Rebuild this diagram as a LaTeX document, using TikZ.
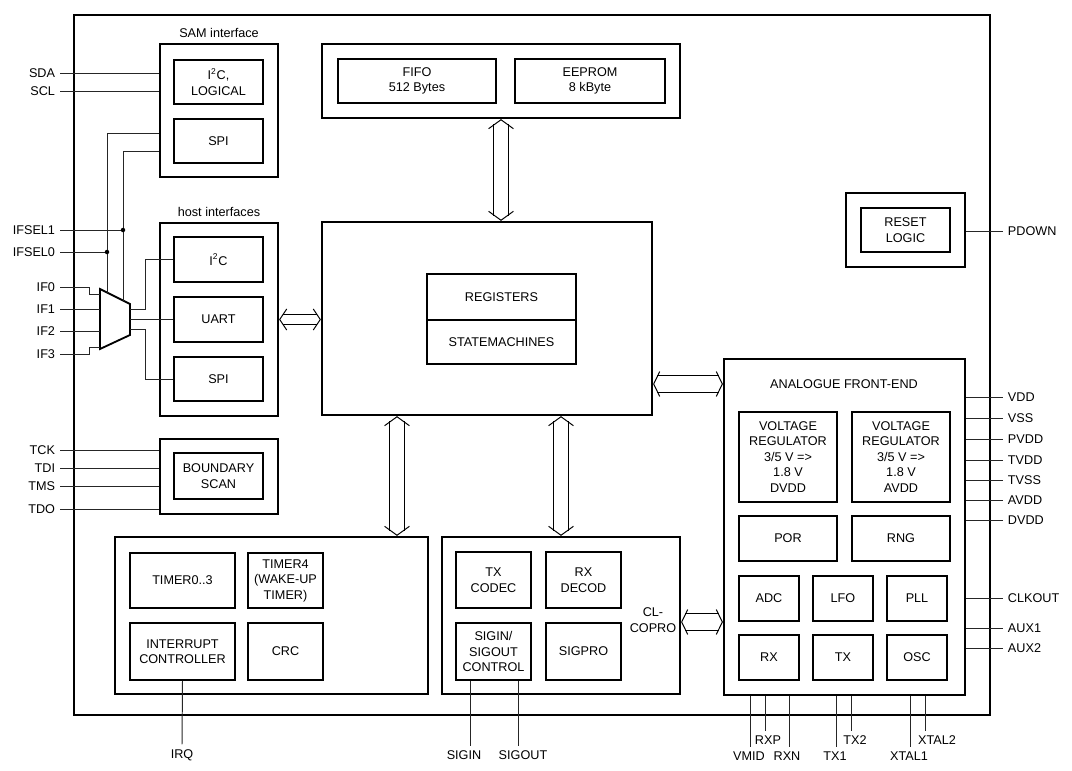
\documentclass[tikz,border=0pt]{standalone}
\usepackage{fontspec}
\setmainfont{Liberation Sans}
\usetikzlibrary{arrows.meta,positioning}

\tikzset{
  chipframe/.style 2 args={draw, line width=1.5pt, inner sep=0pt,
    minimum width=#1*0.025cm, minimum height=#2*0.025cm},
  grp/.style 2 args={draw, line width=1.6pt, inner sep=0pt,
    minimum width=#1*0.025cm, minimum height=#2*0.025cm},
  blk/.style 2 args={draw, line width=1.3pt, inner sep=0pt, align=center,
    minimum width=#1*0.025cm, minimum height=#2*0.025cm},
  wire/.style={line width=0.7pt, black!85},
}

% double bus arrow: gap, tip width, tip length, shorten (all pt), from, to
\newcommand\busarrow[6]{%
  \draw[double, double distance=#1pt, line width=0.7pt,
        shorten <=#4pt, shorten >=#4pt] #5 -- #6;
  \draw[white, line width=0.3pt,
        arrows={Straight Barb[color=black, line width=0.7pt, length=#3pt, width=#2pt]
               -Straight Barb[color=black, line width=0.7pt, length=#3pt, width=#2pt]}] #5 -- #6;}

\begin{document}
\begin{tikzpicture}[x=0.025cm, y=-0.025cm, font=\fontsize{9}{11}\selectfont]
  \useasboundingbox (0,0) rectangle (1072,770);

  % chip outline
  \node[chipframe={916}{700}] (chip) at (532,365) {};

  % SAM interface
  \node[grp={118}{133}] (sam) at (219,110.5) {};
  \node[above=0pt of sam] (samlbl) {SAM interface};
  \node[blk={89}{44}] (samitc) at (218.5,82) {I\textsuperscript{2}C,\\LOGICAL};
  \node[blk={89}{44}] (samspi) at (218.5,141) {SPI};
  \foreach \pinname/\y in {SDA/73, SCL/91} {
    \node[anchor=east] (p\pinname) at (60,\y) {\pinname};
    \draw[wire] (p\pinname.east) -- (p\pinname.east -| sam.west);
  }

  % host interfaces
  \node[grp={118}{193}] (host) at (219,319.5) {};
  \node[above=0pt of host] (hostlbl) {host interfaces};
  \node[blk={89}{45}] (hitc) at (218.5,259.5) {I\textsuperscript{2}C};
  \node[blk={89}{45}] (huart) at (218.5,319.5) {UART};
  \node[blk={89}{44}] (hspi) at (218.5,379) {SPI};

  % interface multiplexer
  \draw[line width=1.3pt] (100,289) -- (130,304) -- (130,335) -- (100,349) -- cycle;
  \coordinate (mux) at (115,319);
  \coordinate (muxsel0) at (107,292.5);
  \coordinate (muxsel1) at (123,300.5);
  \draw[wire] (sam.west |- 0,133) -| (muxsel0);
  \draw[wire] (sam.west |- 0,151) -| (muxsel1);
  \node[anchor=east] (pIFSEL1) at (60,230) {IFSEL1};
  \node[anchor=east] (pIFSEL0) at (60,252) {IFSEL0};
  \draw[wire] (pIFSEL1.east) -- (pIFSEL1.east -| muxsel1);
  \draw[wire] (pIFSEL0.east) -- (pIFSEL0.east -| muxsel0);
  \fill (pIFSEL1.east -| muxsel1) circle (1.6pt);
  \fill (pIFSEL0.east -| muxsel0) circle (1.6pt);
  \foreach \pinname/\y in {IF0/287, IF1/309, IF2/331, IF3/354}
    \node[anchor=east] (p\pinname) at (60,\y) {\pinname};
  \draw[wire] (pIF0.east) -- (89,287) |- (100,294);
  \draw[wire] (pIF1.east) -- (100,309);
  \draw[wire] (pIF2.east) -- (100,331);
  \draw[wire] (pIF3.east) -- (89,354) |- (100,347);
  \draw[wire] (130,309) -- (145,309) |- (hitc.west);
  \draw[wire] (130,319.5) -- (huart.west);
  \draw[wire] (130,329) -- (145,329) |- (hspi.west);

  % boundary scan
  \node[grp={118}{75}] (bscan) at (219,476.5) {};
  \node[blk={89}{46}] (bsinner) at (218.5,476) {BOUNDARY\\SCAN};
  \foreach \pinname/\y in {TCK/450, TDI/468, TMS/486, TDO/509} {
    \node[anchor=east] (p\pinname) at (60,\y) {\pinname};
    \draw[wire] (p\pinname.east) -- (p\pinname.east -| bscan.west);
  }

  % memories
  \node[grp={358}{74}] (mem) at (501,81) {};
  \node[blk={158}{44}] (fifo) at (417,81) {FIFO\\512 Bytes};
  \node[blk={150}{44}] (eeprom) at (590,81) {EEPROM\\8 kByte};

  % core
  \node[grp={330}{193}] (core) at (487,318.5) {};
  \node[blk={149}{46}] (regs) at (501.5,297) {REGISTERS};
  \node[blk={149}{44}] (stm) at (501.5,342) {STATEMACHINES};

  % reset logic
  \node[grp={119}{74}] (reset) at (905.5,230) {};
  \node[blk={89}{44}] (rstlogic) at (905.5,230) {RESET\\LOGIC};
  \node[anchor=west] (pPDOWN) at (1003,231) {PDOWN};
  \draw[wire] (reset.east |- pPDOWN) -- (pPDOWN.west);

  % timers
  \node[grp={313}{157}] (tmr) at (271.5,615.5) {};
  \node[blk={105}{55}] (tmra) at (182.5,580.5) {TIMER0..3};
  \node[blk={75}{55}] (tmrb) at (285.5,580.5) {TIMER4\\(WAKE-UP\\TIMER)};
  \node[blk={105}{57}] (intc) at (182.5,651.5) {INTERRUPT\\CONTROLLER};
  \node[blk={75}{57}] (crc) at (285.5,651.5) {CRC};
  \node (pIRQ) at (182,755) {IRQ};
  \draw[wire] (intc.south) -- (pIRQ.north);

  % contactless coprocessor
  \node[grp={238}{157}] (clg) at (561,615.5) {};
  \node[blk={75}{56}] (txc) at (493.5,580) {TX\\CODEC};
  \node[blk={75}{56}] (rxd) at (583.5,580) {RX\\DECOD};
  \node[blk={75}{57}] (sigc) at (493.5,651.5) {SIGIN/\\SIGOUT\\CONTROL};
  \node[blk={75}{57}] (sigpro) at (583.5,651.5) {SIGPRO};
  \node[align=center] (cllbl) at (653,620) {CL-\\COPRO};
  \node (pSIGIN) at (464,755) {SIGIN};
  \node (pSIGOUT) at (523,755) {SIGOUT};
  \draw[wire] (sigc.south -| 470,0) -- (pSIGIN.north -| 470,0);
  \draw[wire] (sigc.south -| 518,0) -- (pSIGOUT.north -| 518,0);

  % analogue front-end
  \node[grp={241}{336}] (afe) at (844.5,527) {};
  \node (afelbl) at (844,384) {ANALOGUE FRONT-END};
  \node[blk={98}{90}] (vrd) at (788,457) {VOLTAGE\\REGULATOR\\3/5 V =>\\1.8 V\\DVDD};
  \node[blk={98}{90}] (vra) at (901,457) {VOLTAGE\\REGULATOR\\3/5 V =>\\1.8 V\\AVDD};
  \node[blk={98}{45}] (por) at (788,538.5) {POR};
  \node[blk={98}{45}] (rng) at (901,538.5) {RNG};
  \node[blk={60}{45}] (adc) at (769,598.5) {ADC};
  \node[blk={60}{45}] (lfo) at (843,598.5) {LFO};
  \node[blk={60}{45}] (pll) at (917,598.5) {PLL};
  \node[blk={60}{45}] (rxa) at (769,657.5) {RX};
  \node[blk={60}{45}] (txa) at (843,657.5) {TX};
  \node[blk={60}{45}] (osc) at (917,657.5) {OSC};
  \foreach \pinname/\y in {VDD/397, VSS/418, PVDD/439, TVDD/460, TVSS/480, AVDD/500,
                           DVDD/520, CLKOUT/598, AUX1/628, AUX2/648} {
    \node[anchor=west] (p\pinname) at (1003,\y) {\pinname};
    \draw[wire] (afe.east |- p\pinname) -- (p\pinname.west);
  }
  \foreach \pinname/\lx/\ly/\px in {VMID/749/756/750, RXP/768/740/765, RXN/787/756/789,
                                    TX1/835/756/836, TX2/855/740/851,
                                    XTAL1/909/756/910, XTAL2/937/740/925} {
    \node (p\pinname) at (\lx,\ly) {\pinname};
    \draw[wire] (afe.south -| \px,0) -- (p\pinname.north -| \px,0);
  }

  % internal buses
  \busarrow{9.9}{17.7}{6.4}{3.8}{(mem.south)}{(mem.south |- core.north)}
  \busarrow{7.1}{15}{5}{2.6}{(host.east |- huart)}{(core.west |- huart)}
  \busarrow{9.9}{17.7}{6.4}{3.8}{(core.south -| 397,0)}{(tmr.north -| 397,0)}
  \busarrow{9.9}{17.7}{6.4}{3.8}{(core.south -| 561,0)}{(clg.north -| 561,0)}
  \busarrow{11.3}{17.7}{4.3}{2.9}{(core.east |- 0,384)}{(afe.west |- 0,384)}
  \busarrow{11.3}{17.7}{4.3}{2.9}{(clg.east |- 0,622)}{(afe.west |- 0,622)}
\end{tikzpicture}
\end{document}
